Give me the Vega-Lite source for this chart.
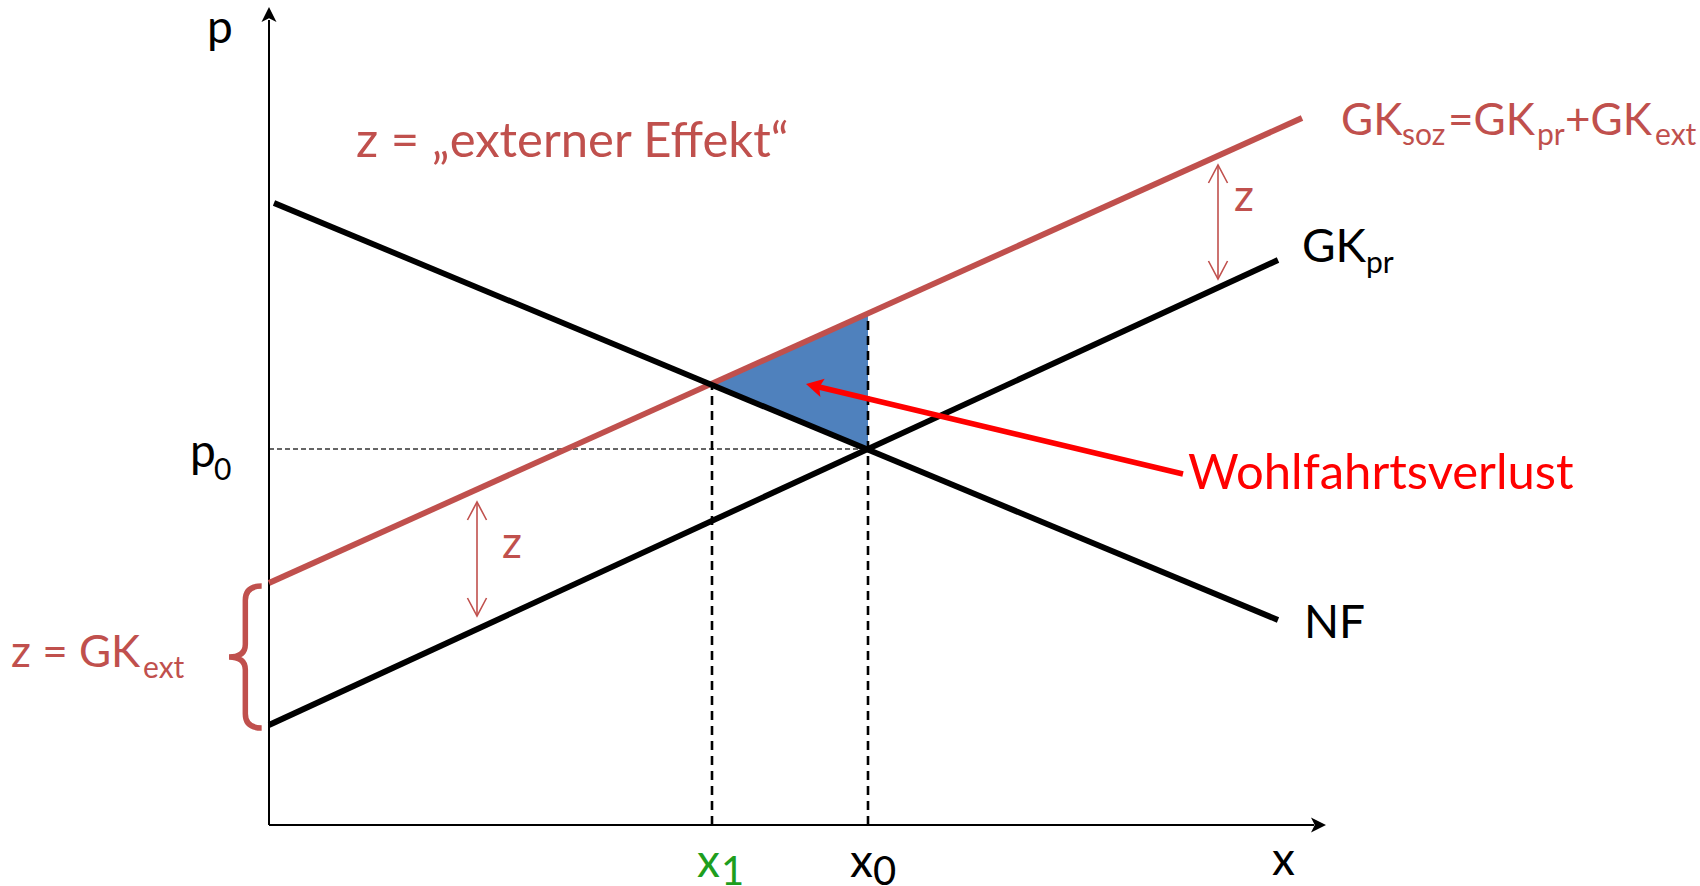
{
  "$schema": "https://vega.github.io/schema/vega-lite/v6.json",
  "width": 1700,
  "height": 886,
  "padding": 0,
  "autosize": {"type": "none"},
  "background": "white",
  "config": {"view": {"stroke": null}, "text": {"font": "Lato", "align": "left", "baseline": "alphabetic"}},
  "datasets": {
    "axes": [{"x": 0, "y": 0, "x2": 0, "y2": 80.5}, {"x": 0, "y": 0, "x2": 104.5, "y2": 0}],
    "yTip": [{"x": 0, "y": 81.8}],
    "xTip": [{"x": 105.7, "y": 0}],
    "blackCurves": [{"name": "NF", "x": 0.5, "y": 62.2, "x2": 100.9, "y2": 20.5}, {"name": "GK_pr", "x": 0, "y": 10.0, "x2": 100.9, "y2": 56.5}],
    "socialCurve": [{"name": "GK_soz", "x": 0, "y": 24.2, "x2": 103.3, "y2": 70.7}],
    "loss": [{"x": 44.3, "y": 44.0, "y2": 44.0}, {"x": 59.9, "y": 37.6, "y2": 51.3}],
    "vDash": [{"x": 44.3, "y": 0, "x2": 44.3, "y2": 44.0}, {"x": 59.9, "y": 0, "x2": 59.9, "y2": 51.3}],
    "hDash": [{"x": 0, "y": 37.6, "x2": 59.9, "y2": 37.6}],
    "zLines": [{"x": 20.8, "y": 32.3, "x2": 20.8, "y2": 20.9}, {"x": 94.9, "y": 66.0, "x2": 94.9, "y2": 54.6}],
    "zTop": [{"x": 20.8, "y": 32.3}, {"x": 94.9, "y": 66.0}],
    "zBottom": [{"x": 20.8, "y": 20.9}, {"x": 94.9, "y": 54.6}],
    "brace": [{"x": -4.0, "y": 16.8}],
    "lossArrow": [{"x": 91.4, "y": 35.1, "x2": 55.0, "y2": 43.8}],
    "lossTip": [{"x": 53.7, "y": 44.1}],
    "blackBig": [
      {"x": -6.2, "y": 78.2, "t": "p"},
      {"x": -7.9, "y": 35.8, "t": "p"},
      {"x": 58.1, "y": -5.2, "t": "x"},
      {"x": 100.3, "y": -5.0, "t": "x"},
      {"x": 103.5, "y": 18.7, "t": "NF"},
      {"x": 103.3, "y": 56.3, "t": "GK"}
    ],
    "blackSub": [
      {"x": -5.5, "y": 34.5, "t": "0"},
      {"x": 109.7, "y": 55.2, "t": "pr"}
    ],
    "blackSubX": [{"x": 60.4, "y": -6.0, "t": "0"}],
    "greenBig": [{"x": 42.8, "y": -5.2, "t": "x"}],
    "greenSub": [{"x": 45.2, "y": -6.0, "t": "1"}],
    "redBig": [
      {"x": -25.8, "y": 15.8, "t": "z = GK"},
      {"x": 23.3, "y": 26.7, "t": "z"},
      {"x": 96.5, "y": 61.4, "t": "z"},
      {"x": 107.2, "y": 69.0, "t": "GK"},
      {"x": 117.9, "y": 69.0, "t": "=GK"},
      {"x": 129.6, "y": 69.0, "t": "+GK"}
    ],
    "redTitle": [{"x": 8.7, "y": 66.8, "t": "z = „externer Effekt“"}],
    "redSub": [
      {"x": -12.6, "y": 14.7, "t": "ext"},
      {"x": 113.3, "y": 68.0, "t": "soz"},
      {"x": 126.8, "y": 68.0, "t": "pr"},
      {"x": 138.6, "y": 68.0, "t": "ext"}
    ],
    "lossLabel": [{"x": 91.9, "y": 33.6, "t": "Wohlfahrtsverlust"}]
  },
  "encoding": {
    "x": {"field": "x", "type": "quantitative", "scale": {"domain": [-26.9, 143.1], "nice": false, "zero": false}, "axis": null},
    "y": {"field": "y", "type": "quantitative", "scale": {"domain": [-6.1, 82.5], "nice": false, "zero": false}, "axis": null}
  },
  "layer": [
    {"data": {"name": "loss"}, "mark": {"type": "area", "color": "#4F81BD", "opacity": 1}, "encoding": {"y2": {"field": "y2"}}},
    {"data": {"name": "hDash"}, "mark": {"type": "rule", "color": "#333333", "strokeWidth": 1.3, "strokeDash": [5, 3]}, "encoding": {"x2": {"field": "x2"}, "y2": {"field": "y2"}}},
    {"data": {"name": "vDash"}, "mark": {"type": "rule", "color": "#000000", "strokeWidth": 2.6, "strokeDash": [9, 6]}, "encoding": {"x2": {"field": "x2"}, "y2": {"field": "y2"}}},
    {"data": {"name": "axes"}, "mark": {"type": "rule", "color": "#000000", "strokeWidth": 2}, "encoding": {"x2": {"field": "x2"}, "y2": {"field": "y2"}}},
    {"data": {"name": "yTip"}, "mark": {"type": "point", "shape": "M0,0L0.5,1L0,0.75L-0.5,1Z", "size": 900, "filled": true, "color": "#000000", "opacity": 1, "angle": 0}},
    {"data": {"name": "xTip"}, "mark": {"type": "point", "shape": "M0,0L0.5,1L0,0.75L-0.5,1Z", "size": 900, "filled": true, "color": "#000000", "opacity": 1, "angle": 90}},
    {"data": {"name": "socialCurve"}, "mark": {"type": "rule", "color": "#C0504D", "strokeWidth": 5.8}, "encoding": {"x2": {"field": "x2"}, "y2": {"field": "y2"}}},
    {"data": {"name": "blackCurves"}, "mark": {"type": "rule", "color": "#000000", "strokeWidth": 5.8}, "encoding": {"x2": {"field": "x2"}, "y2": {"field": "y2"}}},
    {"data": {"name": "zLines"}, "mark": {"type": "rule", "color": "#C0504D", "strokeWidth": 1.6}, "encoding": {"x2": {"field": "x2"}, "y2": {"field": "y2"}}},
    {"data": {"name": "zTop"}, "mark": {"type": "point", "shape": "M-0.53,1L0,0L0.53,1", "size": 1296, "filled": false, "color": "#C0504D", "strokeWidth": 1.6, "opacity": 1, "angle": 0}},
    {"data": {"name": "zBottom"}, "mark": {"type": "point", "shape": "M-0.53,1L0,0L0.53,1", "size": 1296, "filled": false, "color": "#C0504D", "strokeWidth": 1.6, "opacity": 1, "angle": 180}},
    {"data": {"name": "brace"}, "mark": {"type": "point", "shape": "M0.46,-1Q0.23,-1 0.23,-0.8L0.23,-0.18Q0.23,0 0,0Q0.23,0 0.23,0.18L0.23,0.8Q0.23,1 0.46,1", "size": 20164, "filled": false, "color": "#C0504D", "strokeWidth": 5.5, "opacity": 1}},
    {"data": {"name": "lossArrow"}, "mark": {"type": "rule", "color": "#FF0000", "strokeWidth": 5.5}, "encoding": {"x2": {"field": "x2"}, "y2": {"field": "y2"}}},
    {"data": {"name": "lossTip"}, "mark": {"type": "point", "shape": "M0,0L0.55,1L0,0.8L-0.55,1Z", "size": 1156, "filled": true, "color": "#FF0000", "opacity": 1, "angle": 283.4}},
    {"data": {"name": "blackBig"}, "mark": {"type": "text", "fontSize": 46, "color": "#000000"}, "encoding": {"text": {"field": "t"}}},
    {"data": {"name": "blackSub"}, "mark": {"type": "text", "fontSize": 30, "color": "#000000"}, "encoding": {"text": {"field": "t"}}},
    {"data": {"name": "blackSubX"}, "mark": {"type": "text", "fontSize": 40, "color": "#000000"}, "encoding": {"text": {"field": "t"}}},
    {"data": {"name": "greenBig"}, "mark": {"type": "text", "fontSize": 46, "color": "#1E9E1E"}, "encoding": {"text": {"field": "t"}}},
    {"data": {"name": "greenSub"}, "mark": {"type": "text", "fontSize": 40, "color": "#1E9E1E"}, "encoding": {"text": {"field": "t"}}},
    {"data": {"name": "redBig"}, "mark": {"type": "text", "fontSize": 44, "color": "#C0504D"}, "encoding": {"text": {"field": "t"}}},
    {"data": {"name": "redTitle"}, "mark": {"type": "text", "fontSize": 49, "color": "#C0504D"}, "encoding": {"text": {"field": "t"}}},
    {"data": {"name": "redSub"}, "mark": {"type": "text", "fontSize": 30, "color": "#C0504D"}, "encoding": {"text": {"field": "t"}}},
    {"data": {"name": "lossLabel"}, "mark": {"type": "text", "fontSize": 49, "color": "#FF0000"}, "encoding": {"text": {"field": "t"}}}
  ]
}
